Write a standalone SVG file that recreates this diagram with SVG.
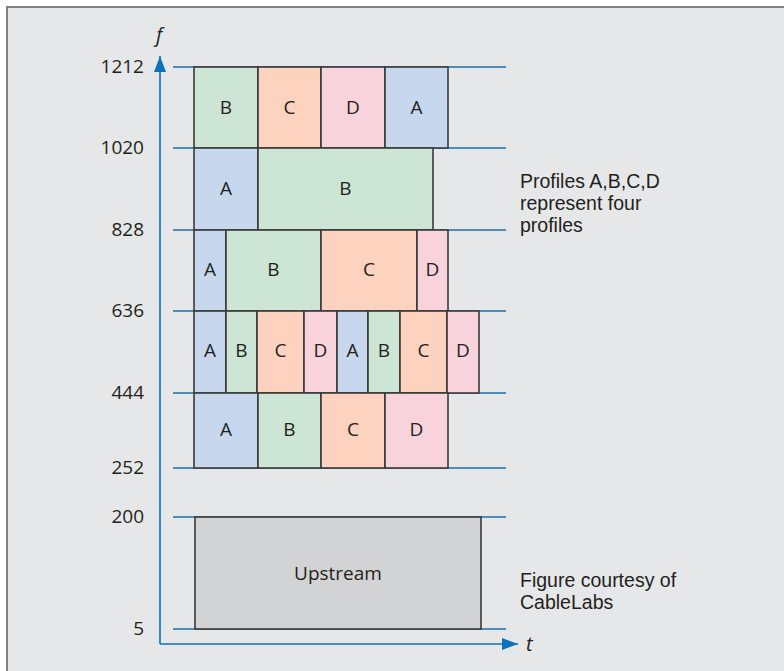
<svg xmlns="http://www.w3.org/2000/svg" width="784" height="671" viewBox="0 0 784 671">
<defs>
<style>
.ax{font-family:"Open Sans","Liberation Sans",sans-serif;font-size:19px;fill:#231f20;text-anchor:end}
.note{font-family:"Liberation Sans","Open Sans",sans-serif;font-size:19.5px;fill:#231f20}
.it{font-family:"Open Sans","Liberation Sans",sans-serif;font-size:20px;font-style:italic;fill:#231f20}
.grid{stroke:#1d6fae;stroke-width:1.6;fill:none}
.axis{stroke:#0b72bb;stroke-width:1.6;fill:none}
.blk rect{stroke:#3a3a3a;stroke-width:1.6}
.blk text{font-family:"Open Sans","Liberation Sans",sans-serif;font-size:19px;fill:#231f20;text-anchor:middle}
.A{fill:#c6d7ee}.B{fill:#cce5d4}.C{fill:#fdd3bf}.D{fill:#f9d3dc}.U{fill:#d2d3d5}
</style>
<marker id="ah" markerWidth="16" markerHeight="12" refX="16" refY="6" orient="auto" markerUnits="userSpaceOnUse">
<path d="M0,0 L16,6 L0,12 Z" fill="#0b72bb"/>
</marker>
</defs>
<rect x="0" y="0" width="784" height="671" fill="#ffffff"/>
<rect x="7" y="7" width="790" height="680" fill="#e6e7e9" stroke="#808080" stroke-width="2"/>

<g id="connectors">
<line class="axis" x1="160" y1="644" x2="160" y2="56" marker-end="url(#ah)"/>
<line class="axis" x1="160" y1="644" x2="518" y2="644" marker-end="url(#ah)"/>
<line class="grid" x1="173" y1="67" x2="506" y2="67"/>
<line class="grid" x1="173" y1="148" x2="506" y2="148"/>
<line class="grid" x1="173" y1="230" x2="506" y2="230"/>
<line class="grid" x1="173" y1="311" x2="506" y2="311"/>
<line class="grid" x1="173" y1="393" x2="506" y2="393"/>
<line class="grid" x1="173" y1="468" x2="506" y2="468"/>
<line class="grid" x1="173" y1="517" x2="506" y2="517"/>
<line class="grid" x1="173" y1="629" x2="506" y2="629"/>
</g>

<g id="axis-labels">
<text class="it" x="156" y="42">f</text>
<text class="it" x="526" y="651">t</text>
<text class="ax" x="144" y="73">1212</text>
<text class="ax" x="144" y="154">1020</text>
<text class="ax" x="144" y="236">828</text>
<text class="ax" x="144" y="317">636</text>
<text class="ax" x="144" y="399">444</text>
<text class="ax" x="144" y="474">252</text>
<text class="ax" x="144" y="523">200</text>
<text class="ax" x="144" y="635">5</text>
</g>

<g id="row-1020-1212" class="blk">
<rect class="B" x="194" y="67" width="64" height="81"/><text x="226" y="114">B</text>
<rect class="C" x="258" y="67" width="63" height="81"/><text x="289.5" y="114">C</text>
<rect class="D" x="321" y="67" width="64" height="81"/><text x="353" y="114">D</text>
<rect class="A" x="385" y="67" width="63" height="81"/><text x="416.5" y="114">A</text>
</g>

<g id="row-828-1020" class="blk">
<rect class="A" x="194" y="148" width="64" height="82"/><text x="226" y="195">A</text>
<rect class="B" x="258" y="148" width="175" height="82"/><text x="345.5" y="195">B</text>
</g>

<g id="row-636-828" class="blk">
<rect class="A" x="194" y="230" width="32" height="81"/><text x="210" y="276">A</text>
<rect class="B" x="226" y="230" width="95" height="81"/><text x="273.5" y="276">B</text>
<rect class="C" x="321" y="230" width="96" height="81"/><text x="369" y="276">C</text>
<rect class="D" x="417" y="230" width="31" height="81"/><text x="432.5" y="276">D</text>
</g>

<g id="row-444-636" class="blk">
<rect class="A" x="194" y="311" width="32" height="82"/><text x="210" y="357">A</text>
<rect class="B" x="226" y="311" width="31" height="82"/><text x="241.5" y="357">B</text>
<rect class="C" x="257" y="311" width="47" height="82"/><text x="280.5" y="357">C</text>
<rect class="D" x="304" y="311" width="33" height="82"/><text x="320.5" y="357">D</text>
<rect class="A" x="337" y="311" width="31" height="82"/><text x="352.5" y="357">A</text>
<rect class="B" x="368" y="311" width="32" height="82"/><text x="384" y="357">B</text>
<rect class="C" x="400" y="311" width="47" height="82"/><text x="423.5" y="357">C</text>
<rect class="D" x="447" y="311" width="32" height="82"/><text x="463" y="357">D</text>
</g>

<g id="row-252-444" class="blk">
<rect class="A" x="194" y="393" width="64" height="75"/><text x="226" y="436">A</text>
<rect class="B" x="258" y="393" width="63" height="75"/><text x="289.5" y="436">B</text>
<rect class="C" x="321" y="393" width="64" height="75"/><text x="353" y="436">C</text>
<rect class="D" x="385" y="393" width="63" height="75"/><text x="416.5" y="436">D</text>
</g>

<g id="upstream" class="blk">
<rect class="U" x="195" y="517" width="286" height="112"/><text x="338" y="580">Upstream</text>
</g>

<g id="notes">
<text class="note" x="520" y="188">Profiles A,B,C,D</text>
<text class="note" x="520" y="210">represent four</text>
<text class="note" x="520" y="232">profiles</text>
<text class="note" x="520" y="587">Figure courtesy of</text>
<text class="note" x="520" y="609">CableLabs</text>
</g>
</svg>
